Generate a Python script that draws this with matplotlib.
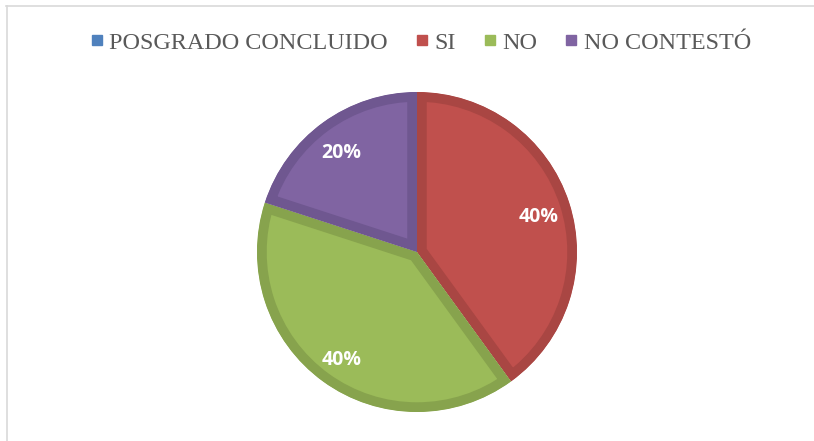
import matplotlib.pyplot as plt
from matplotlib.lines import Line2D

categories = ['POSGRADO CONCLUIDO', 'SI', 'NO', 'NO CONTESTÓ']
values = [0, 40, 40, 20]
colors = ['#4F81BD', '#C0504D', '#9BBB59', '#8064A2']
edge_colors = ['#416A9B', '#A94643', '#87A34D', '#6F5790']

W, H = 814, 441
fig = plt.figure(figsize=(W / 100, H / 100), dpi=100)

# chart frame (left and top edges only show in the reference)
fig.add_artist(Line2D([6.5 / W, 6.5 / W], [0, 1 - 5.5 / H], transform=fig.transFigure,
                      color='#D9D9D9', lw=1.2))
fig.add_artist(Line2D([6 / W, 1], [1 - 5.5 / H, 1 - 5.5 / H], transform=fig.transFigure,
                      color='#D9D9D9', lw=1.2))

cx, cy, r = 417, 252, 160
ax = fig.add_axes([(cx - r) / W, (H - cy - r) / H, 2 * r / W, 2 * r / H])

shown = [i for i, v in enumerate(values) if v > 0]
wedges, texts, autotexts = ax.pie(
    [values[i] for i in shown],
    colors=[colors[i] for i in shown],
    startangle=90, counterclock=False, radius=1,
    autopct='%.0f%%', pctdistance=0.8,
    wedgeprops=dict(linewidth=14),
    textprops=dict(color='white', fontsize=14, fontweight='bold', family='Open Sans'))
ax.set_xlim(-1, 1)
ax.set_ylim(-1, 1)
ax.axis('off')
for w, i in zip(wedges, shown):
    w.set_edgecolor(edge_colors[i])
    # keep only the inner half of the stroke, like Excel's inset border
    w.set_clip_on(True)
    w.set_clip_path(w.get_path(), w.get_transform())
for t in autotexts:
    x, y = t.get_position()
    t.set_position((x, y - 0.03))

handles = [Line2D([], [], marker='s', linestyle='none', markersize=7.2,
                  markerfacecolor=c, markeredgecolor=c) for c in colors]
fig.legend(handles, categories, loc='center', bbox_to_anchor=(421 / W, 1 - 43 / H),
           ncol=4, frameon=False, handlelength=0.45, handletextpad=0.28,
           columnspacing=1.2, prop=dict(family='Liberation Serif', size=17.4),
           labelcolor='#595959')

fig.savefig('out.png', dpi=100)
